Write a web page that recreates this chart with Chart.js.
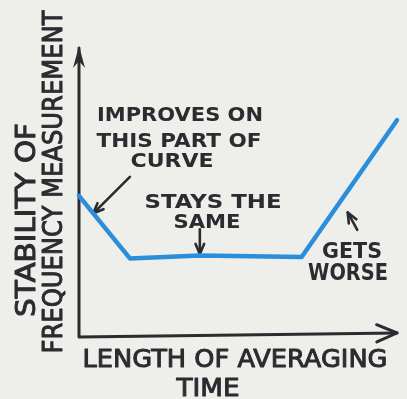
<!DOCTYPE html>
<html>
<head>
<meta charset="utf-8">
<script src="https://cdn.jsdelivr.net/npm/chart.js@4/dist/chart.umd.min.js"></script>
<style>
  html, body { margin: 0; padding: 0; background: #eeeeea; }
  #wrap { width: 407px; height: 399px; position: relative; }
</style>
</head>
<body>
<div id="wrap"><canvas id="chartStability"></canvas></div>
<script>
// averaging time (arbitrary units) and stability level
const tempo = [0, 1.6, 3.8, 7, 10];
const estabilidade = [4.85, 2.7, 2.8, 2.75, 7.45];

const tituloX = ['LENGTH OF AVERAGING', 'TIME'];
const tituloY = ['STABILITY OF', 'FREQUENCY MEASUREMENT'];

const INK = '#2b2b30';
const FONT = '"DejaVu Sans", sans-serif';

// notes placed in data units, with the point each arrow aims at
const notas = [
    { linhas: ['IMPROVES ON', 'THIS PART OF', 'CURVE'], x: 3.2, y: 7.6, cx: [180, 179, 172], w: [166, 165, 83], dy: [0, 26, 46], tam: [19, 19, 19] },
    { linhas: ['STAYS THE', 'SAME'], x: 4.2, y: 4.6, cx: [213, 207], w: [137, 67], dy: [0, 20], tam: [19, 19] },
    { linhas: ['GETS', 'WORSE'], x: 8.7, y: 2.9, cx: [352, 348], w: [60, 80], dy: [0, 21], tam: [22, 23] }
];
const setas = [
    { de: [1.6, 5.5], para: [0.45, 4.25] },
    { de: [3.8, 3.7], para: [3.8, 2.85] },
    { de: [8.75, 3.68], para: [8.45, 4.28] }
];

function textoAjustado(ctx, txt, cx, cy, largura, tamanho, peso) {
    ctx.save();
    ctx.font = (peso || 'bold') + ' ' + tamanho + 'px ' + FONT;
    const w = ctx.measureText(txt).width;
    ctx.translate(cx, cy);
    ctx.scale(largura / w, 1);
    ctx.fillText(txt, 0, 0);
    if (peso === 'normal') {
        ctx.lineWidth = 1;
        ctx.strokeText(txt, 0, 0);
    }
    ctx.restore();
}

function pontaSeta(ctx, x1, y1, x2, y2, tam) {
    const ang = Math.atan2(y2 - y1, x2 - x1);
    ctx.beginPath();
    ctx.moveTo(x2 - tam * Math.cos(ang - 0.4), y2 - tam * Math.sin(ang - 0.4));
    ctx.lineTo(x2, y2);
    ctx.lineTo(x2 - tam * Math.cos(ang + 0.4), y2 - tam * Math.sin(ang + 0.4));
    ctx.stroke();
}

const desenhoMao = {
    id: 'desenhoMao',
    beforeDatasetsDraw(chart) {
        const ctx = chart.ctx;
        const xs = chart.scales.x, ys = chart.scales.y;
        const x0 = xs.getPixelForValue(0), y0 = ys.getPixelForValue(0);
        const yTop = ys.getPixelForValue(10), xEnd = xs.getPixelForValue(10);

        ctx.save();
        ctx.strokeStyle = INK;
        ctx.fillStyle = INK;
        ctx.lineWidth = 3;
        ctx.lineCap = 'round';
        ctx.lineJoin = 'round';

        // axes
        ctx.beginPath();
        ctx.moveTo(x0, yTop + 2);
        ctx.lineTo(x0, y0);
        ctx.lineTo(xEnd, y0 - 4);
        ctx.stroke();

        // arrow heads on axes
        ctx.beginPath();
        ctx.moveTo(x0, yTop);
        ctx.lineTo(x0 - 6, yTop + 22);
        ctx.lineTo(x0, yTop + 15);
        ctx.lineTo(x0 + 6, yTop + 22);
        ctx.closePath();
        ctx.fill();
        pontaSeta(ctx, x0, y0, xEnd, y0 - 4, 22);

        // axis titles
        ctx.textAlign = 'center';
        ctx.textBaseline = 'middle';
        textoAjustado(ctx, tituloX[0], 235, 360, 305, 25, 'normal');
        textoAjustado(ctx, tituloX[1], 208, 389, 63, 25, 'normal');

        ctx.save();
        ctx.translate(28, 220);
        ctx.rotate(-Math.PI / 2);
        textoAjustado(ctx, tituloY[0], 0, 0, 194, 26, 'normal');
        ctx.restore();
        ctx.save();
        ctx.translate(55, 182);
        ctx.rotate(-Math.PI / 2);
        textoAjustado(ctx, tituloY[1], 0, 0, 343, 26, 'normal');
        ctx.restore();

        // notes
        notas.forEach(n => {
            const py = ys.getPixelForValue(n.y);
            n.linhas.forEach((l, i) => {
                textoAjustado(ctx, l, n.cx[i], py + n.dy[i], n.w[i], n.tam[i]);
            });
        });

        // pointer arrows
        ctx.lineWidth = 2.6;
        setas.forEach(s => {
            const ax = xs.getPixelForValue(s.de[0]), ay = ys.getPixelForValue(s.de[1]);
            const bx = xs.getPixelForValue(s.para[0]), by = ys.getPixelForValue(s.para[1]);
            ctx.beginPath();
            ctx.moveTo(ax, ay);
            ctx.lineTo(bx, by);
            ctx.stroke();
            pontaSeta(ctx, ax, ay, bx, by, 11);
        });
        ctx.restore();
    }
};

const ctxEstab = document.getElementById('chartStability').getContext('2d');
const chartEstab = new Chart(ctxEstab, {
    type: 'line',
    data: {
        datasets: [{
            data: tempo.map((t, i) => ({ x: t, y: estabilidade[i] })),
            borderColor: '#2b8edb',
            borderWidth: 4.5,
            borderJoinStyle: 'round',
            borderCapStyle: 'round',
            pointRadius: 0,
            tension: 0,
            clip: false
        }]
    },
    options: {
        responsive: true,
        maintainAspectRatio: false,
        animation: false,
        layout: { padding: { left: 79, top: 46, right: 10, bottom: 62 } },
        plugins: { legend: { display: false }, tooltip: { enabled: false } },
        scales: {
            x: { type: 'linear', min: 0, max: 10, display: false },
            y: { type: 'linear', min: 0, max: 10, display: false }
        }
    },
    plugins: [desenhoMao]
});
</script>
</body>
</html>
